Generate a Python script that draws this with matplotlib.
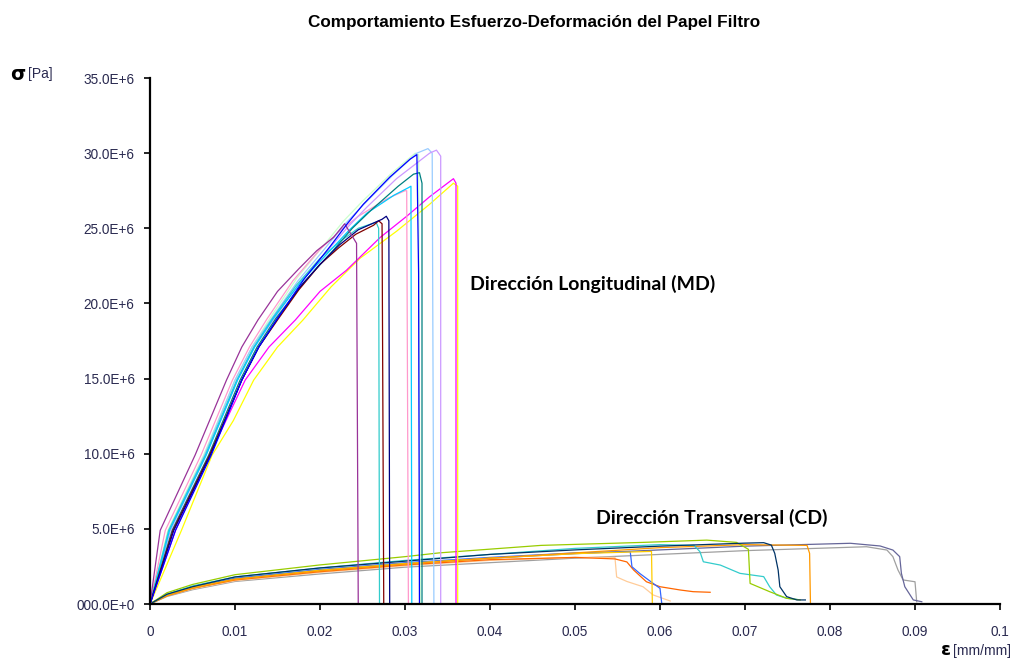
import matplotlib
matplotlib.use("Agg")
import matplotlib.pyplot as plt
import numpy as np

# ---- data (strain in mm/mm, stress in 1E6 Pa) ----
# MD (machine direction) specimens
md_purple_e = [0, 0.0012, 0.0053, 0.0090, 0.0108, 0.0127, 0.0150, 0.0175, 0.0196, 0.0216, 0.0229, 0.0243, 0.0245]
md_purple_s = [0, 4.9, 9.9, 14.9, 17.1, 18.9, 20.8, 22.3, 23.5, 24.4, 25.3, 24.0, 0]
md_yellow_e = [0, 0.0037, 0.0073, 0.0098, 0.0122, 0.0150, 0.0180, 0.0213, 0.0247, 0.0290, 0.0329, 0.0357, 0.0362, 0.0362]
md_yellow_s = [0, 4.9, 9.9, 12.2, 14.9, 17.1, 18.9, 21.1, 23.0, 24.8, 26.6, 28.0, 27.8, 0]
md_magenta_e = [0, 0.0030, 0.0070, 0.0112, 0.0140, 0.0171, 0.0200, 0.0231, 0.0271, 0.0302, 0.0329, 0.0357, 0.0360, 0.0360]
md_magenta_s = [0, 4.9, 9.9, 14.9, 17.1, 18.9, 20.8, 22.2, 24.4, 25.8, 27.1, 28.3, 28.0, 0]
md_brown_e = [0, 0.0027, 0.0070, 0.0108, 0.0128, 0.0150, 0.0175, 0.0200, 0.0222, 0.0242, 0.0263, 0.0269, 0.0273, 0.0275]
md_brown_s = [0, 4.9, 9.9, 14.9, 17.1, 18.9, 20.9, 22.6, 23.7, 24.6, 25.2, 25.5, 25.3, 0]
md_navy_e = [0, 0.0028, 0.0071, 0.0108, 0.0128, 0.0150, 0.0175, 0.0200, 0.0223, 0.0245, 0.0273, 0.0278, 0.0281, 0.0282]
md_navy_s = [0, 4.9, 9.9, 14.9, 17.1, 19.0, 21.0, 22.6, 23.9, 24.9, 25.6, 25.8, 25.5, 0]
md_turq_e = [0, 0.0022, 0.0065, 0.0102, 0.0122, 0.0144, 0.0172, 0.0200, 0.0223, 0.0245, 0.0266, 0.0269, 0.0270]
md_turq_s = [0, 4.9, 9.9, 14.9, 17.1, 19.0, 21.2, 23.0, 24.1, 25.0, 25.4, 25.0, 0]
md_pink_e = [0, 0.0018, 0.0060, 0.0097, 0.0117, 0.0138, 0.0168, 0.0200, 0.0223, 0.0245, 0.0280, 0.0300, 0.0302, 0.0304]
md_pink_s = [0, 4.9, 9.9, 14.9, 17.1, 19.0, 21.5, 23.6, 24.8, 25.8, 27.0, 27.5, 27.5, 0]
md_cyan_e = [0, 0.0023, 0.0066, 0.0103, 0.0123, 0.0145, 0.0177, 0.0210, 0.0233, 0.0255, 0.0287, 0.0304, 0.0307, 0.0308]
md_cyan_s = [0, 4.9, 9.9, 14.9, 17.1, 19.0, 21.4, 23.4, 24.8, 26.0, 27.2, 27.7, 27.8, 0]
md_teal_e = [0, 0.0026, 0.0069, 0.0106, 0.0126, 0.0148, 0.0181, 0.0215, 0.0238, 0.0260, 0.0292, 0.0310, 0.0317, 0.0320, 0.0320]
md_teal_s = [0, 4.9, 9.9, 14.9, 17.1, 19.0, 21.4, 23.5, 25.0, 26.2, 27.8, 28.6, 28.7, 28.0, 0]
md_palegreen_e = [0, 0.0021, 0.0063, 0.0100, 0.0120, 0.0142, 0.0173, 0.0205, 0.0228, 0.0250, 0.0283, 0.0312, 0.0316, 0.0318]
md_palegreen_s = [0, 4.9, 9.9, 14.9, 17.1, 19.1, 21.7, 23.9, 25.5, 26.8, 28.6, 30.0, 29.9, 0]
md_lavender_e = [0, 0.0024, 0.0066, 0.0103, 0.0123, 0.0146, 0.0178, 0.0210, 0.0233, 0.0255, 0.0290, 0.0329, 0.0337, 0.0342, 0.0342]
md_lavender_s = [0, 4.9, 9.9, 14.9, 17.1, 19.0, 21.5, 23.6, 25.1, 26.4, 28.3, 30.0, 30.2, 29.8, 0]
md_skyblue_e = [0, 0.0022, 0.0064, 0.0100, 0.0120, 0.0143, 0.0174, 0.0205, 0.0228, 0.0250, 0.0285, 0.0314, 0.0327, 0.0332, 0.0334]
md_skyblue_s = [0, 4.9, 9.9, 14.9, 17.1, 19.0, 21.5, 23.6, 25.2, 26.5, 28.5, 30.0, 30.3, 30.0, 0]
md_blue_e = [0, 0.0030, 0.0072, 0.0108, 0.0128, 0.0150, 0.0181, 0.0212, 0.0232, 0.0251, 0.0282, 0.0306, 0.0314, 0.0316, 0.0317]
md_blue_s = [0, 4.9, 9.9, 14.9, 17.1, 19.0, 21.6, 23.8, 25.3, 26.6, 28.4, 29.6, 29.9, 22.0, 0]

# CD (cross direction) specimens
cd_lime_e = [0, 0.002, 0.005, 0.010, 0.020, 0.030, 0.034, 0.046, 0.058, 0.0655, 0.0690, 0.0704, 0.0706, 0.0729, 0.0749, 0.0765]
cd_lime_s = [0, 0.75, 1.3, 1.95, 2.6, 3.15, 3.4, 3.9, 4.1, 4.25, 4.1, 3.64, 1.37, 0.82, 0.38, 0.27]
cd_dark_e = [0, 0.002, 0.005, 0.010, 0.020, 0.030, 0.040, 0.050, 0.060, 0.070, 0.0722, 0.0731, 0.0735, 0.0739, 0.0741, 0.0749, 0.0761, 0.0771]
cd_dark_s = [0, 0.65, 1.15, 1.8, 2.4, 2.85, 3.3, 3.6, 3.85, 4.05, 4.08, 3.92, 3.37, 2.26, 1.15, 0.49, 0.27, 0.27]
cd_orange_e = [0, 0.002, 0.005, 0.010, 0.020, 0.030, 0.040, 0.050, 0.0547, 0.0561, 0.0569, 0.0584, 0.0600, 0.0624, 0.0639, 0.0659]
cd_orange_s = [0, 0.55, 1.05, 1.6, 2.15, 2.6, 2.95, 3.1, 3.0, 2.8, 2.26, 1.48, 1.15, 0.93, 0.82, 0.78]
cd_peach_e = [0, 0.002, 0.005, 0.010, 0.020, 0.030, 0.040, 0.050, 0.0547, 0.0549, 0.0561, 0.0580, 0.0592, 0.0612]
cd_peach_s = [0, 0.55, 1.0, 1.55, 2.1, 2.55, 2.9, 3.1, 3.1, 1.8, 1.5, 1.15, 0.6, 0.2]
cd_blue_e = [0, 0.002, 0.005, 0.010, 0.020, 0.030, 0.040, 0.050, 0.0565, 0.0567, 0.0576, 0.0592, 0.0600, 0.0602]
cd_blue_s = [0, 0.6, 1.1, 1.7, 2.3, 2.75, 3.1, 3.4, 3.48, 2.48, 2.04, 1.37, 1.04, 0.07]
cd_gold_e = [0, 0.002, 0.005, 0.010, 0.020, 0.030, 0.040, 0.050, 0.0590, 0.0591]
cd_gold_s = [0, 0.6, 1.1, 1.65, 2.25, 2.7, 3.05, 3.35, 3.5, 0]
cd_turq_e = [0, 0.002, 0.005, 0.010, 0.020, 0.030, 0.040, 0.050, 0.060, 0.0640, 0.0647, 0.0651, 0.0671, 0.0694, 0.0722, 0.0729, 0.0737, 0.0749, 0.0761]
cd_turq_s = [0, 0.65, 1.2, 1.8, 2.4, 2.9, 3.3, 3.7, 3.95, 3.9, 3.48, 2.81, 2.59, 2.04, 1.82, 1.15, 0.6, 0.38, 0.31]
cd_sand_e = [0, 0.002, 0.005, 0.010, 0.020, 0.030, 0.040, 0.050, 0.060, 0.070, 0.0773, 0.0776, 0.0777]
cd_sand_s = [0, 0.55, 1.05, 1.65, 2.2, 2.65, 3.05, 3.4, 3.75, 3.95, 3.9, 3.37, 0.07]
cd_slate_e = [0, 0.002, 0.005, 0.010, 0.020, 0.030, 0.040, 0.050, 0.060, 0.070, 0.0824, 0.0859, 0.0874, 0.0882, 0.0884, 0.0888, 0.0898, 0.0908]
cd_slate_s = [0, 0.6, 1.1, 1.7, 2.25, 2.7, 3.05, 3.35, 3.6, 3.85, 4.04, 3.86, 3.59, 3.15, 2.04, 1.15, 0.27, 0.15]
cd_gray_e = [0, 0.002, 0.005, 0.010, 0.020, 0.030, 0.040, 0.050, 0.060, 0.070, 0.0843, 0.0867, 0.0874, 0.0880, 0.0886, 0.0900, 0.0902]
cd_gray_s = [0, 0.5, 0.95, 1.5, 2.0, 2.45, 2.75, 3.05, 3.3, 3.55, 3.81, 3.59, 3.15, 2.26, 1.6, 1.48, 0.15]

y_ticks = [0, 5, 10, 15, 20, 25, 30, 35]
y_tick_labels = ['000.0E+0', '5.0E+6', '10.0E+6', '15.0E+6', '20.0E+6', '25.0E+6', '30.0E+6', '35.0E+6']
x_ticks = [0, 0.01, 0.02, 0.03, 0.04, 0.05, 0.06, 0.07, 0.08, 0.09, 0.1]
x_tick_labels = ['0', '0.01', '0.02', '0.03', '0.04', '0.05', '0.06', '0.07', '0.08', '0.09', '0.1']

cd_curves = [
    (cd_gray_e, cd_gray_s, '#a0a0a0'),
    (cd_slate_e, cd_slate_s, '#666699'),
    (cd_peach_e, cd_peach_s, '#ffcc99'),
    (cd_orange_e, cd_orange_s, '#ff6600'),
    (cd_blue_e, cd_blue_s, '#3366ff'),
    (cd_gold_e, cd_gold_s, '#ffcc00'),
    (cd_sand_e, cd_sand_s, '#ff9900'),
    (cd_turq_e, cd_turq_s, '#33cccc'),
    (cd_lime_e, cd_lime_s, '#99cc00'),
    (cd_dark_e, cd_dark_s, '#003366'),
]
md_curves = [
    (md_yellow_e, md_yellow_s, '#ffff00'),
    (md_magenta_e, md_magenta_s, '#ff00ff'),
    (md_palegreen_e, md_palegreen_s, '#ccffcc'),
    (md_pink_e, md_pink_s, '#ff99cc'),
    (md_skyblue_e, md_skyblue_s, '#99ccff'),
    (md_lavender_e, md_lavender_s, '#cc99ff'),
    (md_turq_e, md_turq_s, '#33cccc'),
    (md_cyan_e, md_cyan_s, '#00ccff'),
    (md_teal_e, md_teal_s, '#008080'),
    (md_brown_e, md_brown_s, '#800000'),
    (md_navy_e, md_navy_s, '#000080'),
    (md_purple_e, md_purple_s, '#993399'),
    (md_blue_e, md_blue_s, '#0000ff'),
]

fig = plt.figure(figsize=(10.19, 6.59), dpi=100)
ax = fig.add_axes([150/1019, 55/659, 850/1019, 526/659])

for e, s, c in cd_curves:
    ax.plot(e, np.array(s) * 1e6, color=c, lw=0.9)
for e, s, c in md_curves:
    ax.plot(e, np.array(s) * 1e6, color=c, lw=0.9)

ax.set_xlim(0, 0.1)
ax.set_ylim(0, 35e6)
ax.set_yticks(np.array(y_ticks) * 1e6)
ax.set_yticklabels(y_tick_labels)
ax.set_xticks(x_ticks)
ax.set_xticklabels(x_tick_labels)
for sp in ['top', 'right']:
    ax.spines[sp].set_visible(False)
ax.spines['left'].set_linewidth(1.6)
ax.spines['bottom'].set_linewidth(1.6)
ax.tick_params(axis='both', direction='out', length=4, width=1.2,
               labelsize=9.8, labelcolor='#2a2a50')
ax.tick_params(axis='y', pad=7)
ax.tick_params(axis='x', pad=11)
for lab in ax.get_xticklabels() + ax.get_yticklabels():
    lab.set_family('Liberation Sans')

fig.text(534/1019, 1 - 22/659, 'Comportamiento Esfuerzo-Deformación del Papel Filtro',
         ha='center', va='center', fontsize=12.3, fontweight='bold',
         family='Liberation Sans')
fig.text(10/1019, 1 - 75/659, 'σ', ha='left', va='center', fontsize=14,
         fontweight='bold', family='DejaVu Sans')
fig.text(28/1019, 1 - 74/659, '[Pa]', ha='left', va='center', fontsize=10,
         family='Liberation Sans', color='#2a2a50')
fig.text(941/1019, 1 - 650/659, 'ε', ha='left', va='center', fontsize=13,
         fontweight='bold', family='DejaVu Sans')
fig.text(953/1019, 1 - 651/659, '[mm/mm]', ha='left', va='center', fontsize=10,
         family='Liberation Sans', color='#2a2a50')

ax.text(0.0377, 21.3e6, 'Dirección Longitudinal (MD)', ha='left', va='center',
        fontsize=14, fontweight='bold', family='Lato')
ax.text(0.0525, 5.75e6, 'Dirección Transversal (CD)', ha='left', va='center',
        fontsize=14, fontweight='bold', family='Lato')

fig.savefig('out.png', dpi=100)
